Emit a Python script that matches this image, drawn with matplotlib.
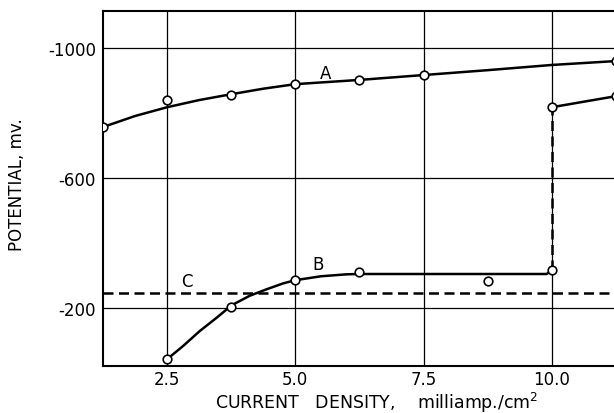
import numpy as np
import matplotlib.pyplot as plt

plt.rcParams['font.family'] = ['DejaVu Sans']

# curve A: measured points and the drawn smooth curve
a_x = [1.25, 2.5, 3.75, 5.0, 6.25, 7.5, 11.25]
a_y = [-757, -840, -856, -889, -902, -917, -960]
a_line_x = [1.25, 1.875, 2.5, 3.125, 3.75, 4.375, 5.0, 6.25, 7.5, 8.75, 10.0, 11.25]
a_line_y = [-757, -791, -818, -840, -858, -875, -889, -902, -917, -932, -948, -960]

# curve B: lower branch, jump at 10 mA, upper branch
b_x = [2.5, 3.75, 5.0, 6.25, 8.75, 10.0]
b_y = [-43, -205, -286, -311, -283, -317]
b_line_x = [2.5, 2.815, 3.14, 3.47, 3.76, 4.11, 4.44, 4.76, 5.0, 5.5, 6.0, 6.25, 7.5, 9.9, 10.0]
b_line_y = [-43, -84, -130, -171, -209, -238, -258, -276, -286, -298, -304, -305, -305, -305, -317]
b_up_x = [10.0, 11.25]
b_up_y = [-818, -852]

# curve C: constant dashed level
c_x = [1.25, 12.5]
c_y = [-247, -247]

xticks = [2.5, 5.0, 7.5, 10.0]
xtick_labels = ['2.5', '5.0', '7.5', '10.0']
yticks = [-1000, -600, -200]
ytick_labels = ['-1000', '-600', '-200']

fig = plt.figure(figsize=(6.14, 4.14), dpi=100)
ax = fig.add_axes([103 / 614, 1 - 367 / 414, 577 / 614, 355 / 414])

ax.set_xlim(1.25, 12.5)
ax.set_ylim(-22, -1114)

ax.set_xticks(xticks)
ax.set_xticklabels(xtick_labels, fontsize=12)
ax.set_yticks(yticks)
ax.set_yticklabels(ytick_labels, fontsize=12)
ax.tick_params(axis='x', length=0, pad=3)
ax.tick_params(axis='y', length=0, pad=5)
ax.grid(True, color='black', linewidth=0.9)

for s in ['left', 'top', 'bottom']:
    ax.spines[s].set_linewidth(1.5)
ax.spines['right'].set_visible(False)

lw = 1.8
dash = (0, (4, 2.2))
mk = dict(marker='o', markersize=6.2, markerfacecolor='white',
          markeredgecolor='black', markeredgewidth=1.2, linestyle='none', zorder=5)

ax.plot(a_line_x, a_line_y, color='black', linewidth=lw)
ax.plot(a_x, a_y, **mk)

ax.plot(b_line_x, b_line_y, color='black', linewidth=lw)
ax.plot([b_x[-1], b_up_x[0]], [b_y[-1], b_up_y[0]], color='black', linewidth=lw,
        linestyle=dash)
ax.plot(b_up_x, b_up_y, color='black', linewidth=lw)
ax.plot(b_x, b_y, **mk)
ax.plot(b_up_x, b_up_y, **mk)

ax.plot(c_x, c_y, color='black', linewidth=lw, linestyle=dash)

ax.text(5.58, -923, 'A', fontsize=12, ha='center', va='center')
ax.text(5.44, -335, 'B', fontsize=12, ha='center', va='center')
ax.text(2.89, -283, 'C', fontsize=12, ha='center', va='center')

ax.set_xlabel('CURRENT   DENSITY,    milliamp./cm$^2$', fontsize=12.5)
ax.xaxis.set_label_coords(0.475, -0.068)
ax.set_ylabel('POTENTIAL, mv.', fontsize=12)
ax.yaxis.set_label_coords(-0.133, 0.513)

fig.savefig('out.png', dpi=100)
